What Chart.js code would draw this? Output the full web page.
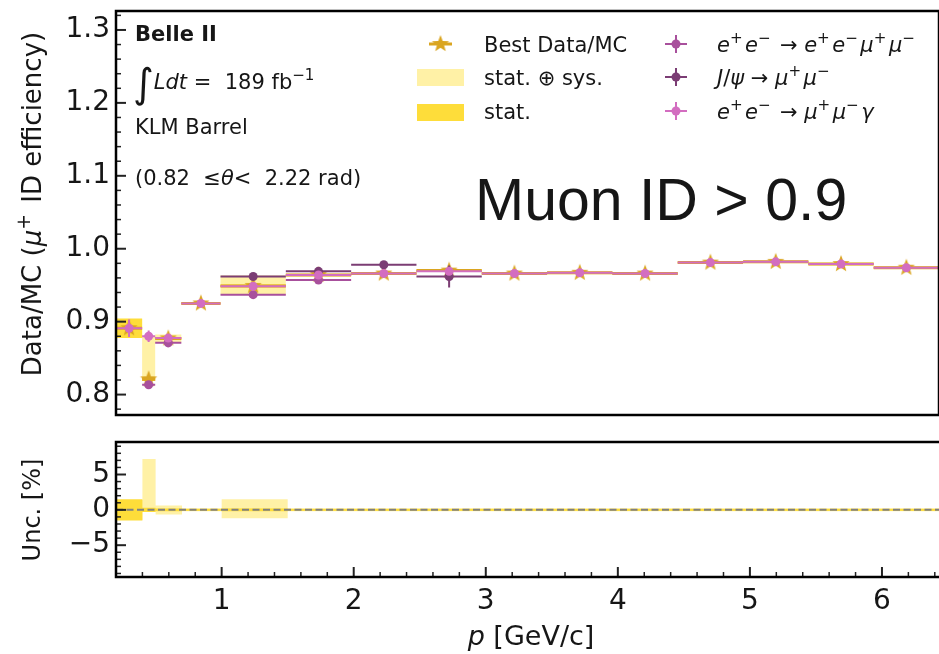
<!DOCTYPE html>
<html>
<head>
<meta charset="utf-8">
<script src="https://cdn.jsdelivr.net/npm/chart.js@4.4.1/dist/chart.umd.min.js"></script>
<style>
  html, body { margin: 0; padding: 0; background: #fff; overflow: hidden; }
  #wrap { position: relative; width: 939px; height: 654px; overflow: hidden; }
  #top { position: absolute; left: 0; top: 0; }
  #bottom { position: absolute; left: 0; top: 430px; }
</style>
</head>
<body>
<div id="wrap">
  <canvas id="top" width="948" height="424"></canvas>
  <canvas id="bottom" width="948" height="224"></canvas>
</div>
<script>
// momentum bins [GeV/c]
const binLo = [0.2, 0.4, 0.5, 0.7, 1.0, 1.5, 2.0, 2.5, 3.0, 3.5, 4.0, 4.5, 5.0, 5.5, 6.0];
const binHi = [0.4, 0.5, 0.7, 1.0, 1.5, 2.0, 2.5, 3.0, 3.5, 4.0, 4.5, 5.0, 5.5, 6.0, 6.5];

// best Data/MC
const bestVal = [0.891, 0.821, 0.877, 0.925, 0.949, 0.964, 0.966, 0.970, 0.966, 0.967, 0.966, 0.981, 0.982, 0.979, 0.974];
// uncertainties in percent
const statLo = [1.5, 0.3, 0.2, 0.1, 0.2, 0.1, 0.1, 0.1, 0.1, 0.1, 0.1, 0.1, 0.1, 0.1, 0.1];
const statHi = [1.5, 0.3, 0.2, 0.1, 0.2, 0.1, 0.1, 0.1, 0.1, 0.1, 0.1, 0.1, 0.1, 0.1, 0.1];
const totLo  = [1.4, 0.2, 0.65, 0.2, 1.2, 0.2, 0.2, 0.2, 0.2, 0.2, 0.2, 0.2, 0.2, 0.2, 0.2];
const totHi  = [1.4, 7.2, 0.6, 0.2, 1.5, 0.2, 0.2, 0.2, 0.2, 0.2, 0.2, 0.2, 0.2, 0.2, 0.2];

// individual channels
const eemmVal = [null, 0.8135, 0.871, null, 0.937, 0.957, null, null, null, null, null, null, null, null, null];
const eemmErr = [null, 0.004, 0.006, null, 0.004, 0.003, null, null, null, null, null, null, null, null, null];
const jpsiVal = [null, null, null, null, 0.962, 0.969, 0.978, 0.962, null, null, null, null, null, null, null];
const jpsiErr = [null, null, null, null, 0.004, 0.003, 0.003, 0.015, null, null, null, null, null, null, null];
const mmgVal  = [0.891, 0.880, 0.8775, 0.925, 0.9486, 0.964, 0.966, 0.969, 0.966, 0.967, 0.966, 0.981, 0.982, 0.979, 0.974];
const mmgErr  = [0.012, 0.008, 0.005, 0.003, 0.003, 0.002, 0.002, 0.002, 0.002, 0.002, 0.002, 0.002, 0.002, 0.002, 0.002];

// ticks
const ratioTicks = [0.8, 0.9, 1.0, 1.1, 1.2, 1.3];
const uncTicks = [-5, 0, 5];
const pTicks = [1, 2, 3, 4, 5, 6];

const FONT = "'DejaVu Sans', sans-serif";
const GOLD = '#DAA520';
const LIGHT = '#FFF1A6';
const DARK = '#FEDD3A';
const PINK = '#D36DC0';
const MPURP = '#A8509C';
const DPURP = '#7B3D74';
const INK = '#161616';

function makeStar(r, color) {
  const c = document.createElement('canvas');
  const s = Math.ceil(r * 2 + 2);
  c.width = s; c.height = s;
  const g = c.getContext('2d');
  g.fillStyle = color;
  g.beginPath();
  for (let i = 0; i < 10; i++) {
    const rad = i % 2 ? r * 0.42 : r;
    const a = -Math.PI / 2 + i * Math.PI / 5;
    g.lineTo(s / 2 + rad * Math.cos(a), s / 2 + rad * Math.sin(a));
  }
  g.closePath();
  g.fill();
  return c;
}
const starImg = makeStar(9, GOLD);

// helpers building datasets from the arrays
function stepData(vals) {
  const d = binLo.map((x, i) => ({ x: x, y: vals[i] }));
  d.push({ x: binHi[binHi.length - 1], y: vals[vals.length - 1] });
  return d;
}
function xErr(vals) {
  const d = [];
  vals.forEach((v, i) => {
    if (v == null) return;
    d.push({ x: binLo[i], y: v }, { x: binHi[i], y: v }, { x: binHi[i], y: null });
  });
  return d;
}
function yErr(vals, errs) {
  const d = [];
  vals.forEach((v, i) => {
    if (v == null) return;
    const c = (binLo[i] + binHi[i]) / 2;
    d.push({ x: c, y: v - errs[i] }, { x: c, y: v + errs[i] }, { x: c, y: null });
  });
  return d;
}
function pts(vals) {
  const d = [];
  vals.forEach((v, i) => { if (v != null) d.push({ x: (binLo[i] + binHi[i]) / 2, y: v }); });
  return d;
}

const noLine = { borderColor: 'rgba(0,0,0,0)', borderWidth: 0, pointRadius: 0, stepped: true };
function errLine(data, color, w, order) {
  return { data: data, borderColor: color, borderWidth: w, pointRadius: 0, spanGaps: false, fill: false, order: order };
}
function dots(data, color, order) {
  return { data: data, showLine: false, pointRadius: 4.5, pointBackgroundColor: color, pointBorderWidth: 0, order: order };
}

// rich text (mathtext-like superscripts)
function segFont(s, size) {
  const sz = s.sup ? size * 0.72 : (s.size || size);
  return (s.bold ? 'bold ' : '') + (s.it ? 'italic ' : '') + sz + 'px ' + (s.family || FONT);
}
function segWidth(ctx, s, size) {
  ctx.font = segFont(s, size);
  return ctx.measureText(s.t).width + (s.sup ? size * 0.12 : 0);
}
function drawRich(ctx, segs, x, y, size, align) {
  let w = 0;
  segs.forEach(s => { w += segWidth(ctx, s, size); });
  let cx = align === 'center' ? x - w / 2 : x;
  segs.forEach(s => {
    ctx.font = segFont(s, size);
    ctx.fillText(s.t, cx, y - (s.sup ? size * 0.42 : 0) + (s.dy || 0));
    cx += segWidth(ctx, s, size);
  });
}

function drawTicks(ctx, scale, major, minorStep, horizontal, area) {
  const lo = Math.ceil(scale.min / minorStep - 1e-6), hi = Math.floor(scale.max / minorStep + 1e-6);
  ctx.strokeStyle = '#222';
  for (let k = lo; k <= hi; k++) {
    const v = k * minorStep;
    const isMajor = major.some(m => Math.abs(m - v) < 1e-6);
    const len = isMajor ? 10 : 5;
    const p = scale.getPixelForValue(v);
    ctx.lineWidth = isMajor ? 2 : 1.5;
    ctx.beginPath();
    if (horizontal) { ctx.moveTo(p, area.bottom); ctx.lineTo(p, area.bottom - len); }
    else { ctx.moveTo(area.left, p); ctx.lineTo(area.left + len, p); }
    ctx.stroke();
  }
}
function drawFrame(ctx, a) {
  ctx.strokeStyle = '#000';
  ctx.lineWidth = 2.5;
  ctx.strokeRect(a.left, a.top, a.right - a.left, a.bottom - a.top);
}

const frameTop = {
  id: 'frameTop',
  afterDatasetsDraw(chart) {
    const ctx = chart.ctx, a = chart.chartArea;
    ctx.save();
    drawTicks(ctx, chart.scales.y, ratioTicks, 0.02, false, a);
    drawFrame(ctx, a);
    ctx.restore();
  },
  afterDraw(chart) {
    const ctx = chart.ctx;
    ctx.save();
    ctx.fillStyle = INK;
    ctx.textBaseline = 'alphabetic';
    // experiment labels
    drawRich(ctx, [{ t: 'Belle II', bold: true }], 135, 41, 21);
    drawRich(ctx, [{ t: '\u222B', size: 40, dy: 8 }, { t: 'Ldt', it: true }, { t: ' =  189 fb' }, { t: '\u22121', sup: true }], 133, 89, 21);
    drawRich(ctx, [{ t: 'KLM Barrel' }], 135, 134, 21);
    drawRich(ctx, [{ t: '(0.82  \u2264' }, { t: '\u03B8', it: true }, { t: '<  2.22 rad)' }], 135, 185, 21);
    // big cut label
    drawRich(ctx, [{ t: 'Muon ID > 0.9', family: "'Liberation Sans', sans-serif" }], 475, 220, 59);

    // legend, first column
    ctx.strokeStyle = GOLD; ctx.lineWidth = 3;
    ctx.beginPath(); ctx.moveTo(429, 44); ctx.lineTo(452, 44); ctx.stroke();
    ctx.drawImage(starImg, 440.5 - starImg.width / 2, 44 - starImg.height / 2);
    ctx.fillStyle = LIGHT; ctx.fillRect(417, 69, 47, 17);
    ctx.fillStyle = DARK; ctx.fillRect(417, 104, 47, 17);
    ctx.fillStyle = INK;
    drawRich(ctx, [{ t: 'Best Data/MC' }], 484, 52, 21);
    drawRich(ctx, [{ t: 'stat. \u2295 sys.' }], 484, 85, 21);
    drawRich(ctx, [{ t: 'stat.' }], 484, 119, 21);

    // legend, second column
    const rows = [
      { c: MPURP, y: 44, segs: [{ t: 'e', it: true }, { t: '+', sup: true }, { t: 'e', it: true }, { t: '\u2212', sup: true }, { t: ' \u2192 ' },
        { t: 'e', it: true }, { t: '+', sup: true }, { t: 'e', it: true }, { t: '\u2212', sup: true },
        { t: '\u03BC', it: true }, { t: '+', sup: true }, { t: '\u03BC', it: true }, { t: '\u2212', sup: true }] },
      { c: DPURP, y: 77, segs: [{ t: 'J', it: true }, { t: '/' }, { t: '\u03C8', it: true }, { t: ' \u2192 ' },
        { t: '\u03BC', it: true }, { t: '+', sup: true }, { t: '\u03BC', it: true }, { t: '\u2212', sup: true }] },
      { c: PINK, y: 111, segs: [{ t: 'e', it: true }, { t: '+', sup: true }, { t: 'e', it: true }, { t: '\u2212', sup: true }, { t: ' \u2192 ' },
        { t: '\u03BC', it: true }, { t: '+', sup: true }, { t: '\u03BC', it: true }, { t: '\u2212', sup: true }, { t: '\u03B3', it: true }] }
    ];
    rows.forEach(r => {
      ctx.strokeStyle = r.c; ctx.lineWidth = 2;
      ctx.beginPath();
      ctx.moveTo(665, r.y); ctx.lineTo(687, r.y);
      ctx.moveTo(676, r.y - 9); ctx.lineTo(676, r.y + 9);
      ctx.stroke();
      ctx.fillStyle = r.c;
      ctx.beginPath(); ctx.arc(676, r.y, 4.5, 0, Math.PI * 2); ctx.fill();
      ctx.fillStyle = INK;
      drawRich(ctx, r.segs, 717, r.y + 8, 21);
    });

    // y title
    ctx.translate(31, 204);
    ctx.rotate(-Math.PI / 2);
    drawRich(ctx, [{ t: 'Data/MC (' }, { t: '\u03BC', it: true }, { t: '+', sup: true }, { t: ' ID efficiency)' }], 0, 10, 26, 'center');
    ctx.restore();
  }
};

const frameBottom = {
  id: 'frameBottom',
  afterDatasetsDraw(chart) {
    const ctx = chart.ctx, a = chart.chartArea;
    ctx.save();
    drawTicks(ctx, chart.scales.y, uncTicks, 1, false, a);
    drawTicks(ctx, chart.scales.x, pTicks, 0.2, true, a);
    drawFrame(ctx, a);
    ctx.restore();
  },
  afterDraw(chart) {
    const ctx = chart.ctx;
    ctx.save();
    ctx.fillStyle = INK;
    drawRich(ctx, [{ t: 'p', it: true }, { t: ' [GeV/c]' }], 531, 215, 27, 'center');
    ctx.translate(31, 80);
    ctx.rotate(-Math.PI / 2);
    drawRich(ctx, [{ t: 'Unc. [%]' }], 0, 9, 24, 'center');
    ctx.restore();
  }
};

function yScale(min, max, ticks, fmt) {
  return {
    type: 'linear', min: min, max: max,
    grid: { display: false, drawTicks: false }, border: { display: false },
    afterFit(s) { s.width = 116; s.paddingTop = 0; s.paddingBottom = 0; },
    afterBuildTicks(s) { s.ticks = ticks.map(v => ({ value: v })); },
    ticks: { padding: 6, color: INK, font: { family: FONT, size: 28 }, callback: fmt }
  };
}

Chart.defaults.font.family = FONT;

// main ratio panel
new Chart(document.getElementById('top'), {
  type: 'line',
  data: {
    datasets: [
      Object.assign({ data: stepData(bestVal.map((v, i) => v * (1 + totHi[i] / 100))), fill: false, order: 20 }, noLine),
      Object.assign({ data: stepData(bestVal.map((v, i) => v * (1 - totLo[i] / 100))), fill: '-1', backgroundColor: LIGHT, order: 19 }, noLine),
      Object.assign({ data: stepData(bestVal.map((v, i) => v * (1 + statHi[i] / 100))), fill: false, order: 18 }, noLine),
      Object.assign({ data: stepData(bestVal.map((v, i) => v * (1 - statLo[i] / 100))), fill: '-1', backgroundColor: DARK, order: 17 }, noLine),
      errLine(xErr(bestVal), GOLD, 3, 12),
      { data: pts(bestVal), showLine: false, pointStyle: starImg, pointRadius: 8, order: 11 },
      errLine(xErr(eemmVal), MPURP, 2, 10),
      errLine(yErr(eemmVal, eemmErr), MPURP, 2, 9),
      dots(pts(eemmVal), MPURP, 8),
      errLine(xErr(jpsiVal), DPURP, 2, 7),
      errLine(yErr(jpsiVal, jpsiErr), DPURP, 2, 6),
      dots(pts(jpsiVal), DPURP, 5),
      errLine(xErr(mmgVal), PINK, 2, 4),
      errLine(yErr(mmgVal, mmgErr), PINK, 2, 3),
      dots(pts(mmgVal), PINK, 2)
    ]
  },
  options: {
    responsive: false, animation: false, devicePixelRatio: 1, events: [],
    layout: { padding: { left: 0, right: 0, top: 11, bottom: 4 } },
    plugins: { legend: { display: false }, tooltip: { enabled: false } },
    scales: {
      x: { type: 'linear', min: 0.2, max: 6.5, display: false },
      y: yScale(0.772, 1.326, ratioTicks, v => v.toFixed(1))
    }
  },
  plugins: [frameTop]
});

// uncertainty panel
new Chart(document.getElementById('bottom'), {
  type: 'line',
  data: {
    datasets: [
      Object.assign({ data: stepData(totHi), fill: false, order: 20 }, noLine),
      Object.assign({ data: stepData(totLo.map(v => -v)), fill: '-1', backgroundColor: LIGHT, order: 19 }, noLine),
      Object.assign({ data: stepData(statHi), fill: false, order: 18 }, noLine),
      Object.assign({ data: stepData(statLo.map(v => -v)), fill: '-1', backgroundColor: DARK, order: 17 }, noLine),
      { data: [{ x: 0.2, y: 0 }, { x: 6.5, y: 0 }], borderColor: DARK, borderWidth: 2, pointRadius: 0, order: 5 },
      { data: [{ x: 0.2, y: 0 }, { x: 6.5, y: 0 }], borderColor: '#808080', borderWidth: 2, borderDash: [7, 3.5], pointRadius: 0, order: 4 }
    ]
  },
  options: {
    responsive: false, animation: false, devicePixelRatio: 1, events: [],
    layout: { padding: { left: 0, right: 0, top: 12, bottom: 0 } },
    plugins: { legend: { display: false }, tooltip: { enabled: false } },
    scales: {
      x: {
        type: 'linear', min: 0.2, max: 6.5,
        grid: { display: false, drawTicks: false }, border: { display: false },
        afterFit(s) { s.height = 77; s.paddingLeft = 0; s.paddingRight = 0; },
        afterBuildTicks(s) { s.ticks = pTicks.map(v => ({ value: v })); },
        ticks: { padding: 8, color: INK, maxRotation: 0, autoSkip: false, font: { family: FONT, size: 28 } }
      },
      y: yScale(-9.5, 9.6, uncTicks, v => (v < 0 ? '\u2212' + Math.abs(v) : String(v)))
    }
  },
  plugins: [frameBottom]
});
</script>
</body>
</html>
